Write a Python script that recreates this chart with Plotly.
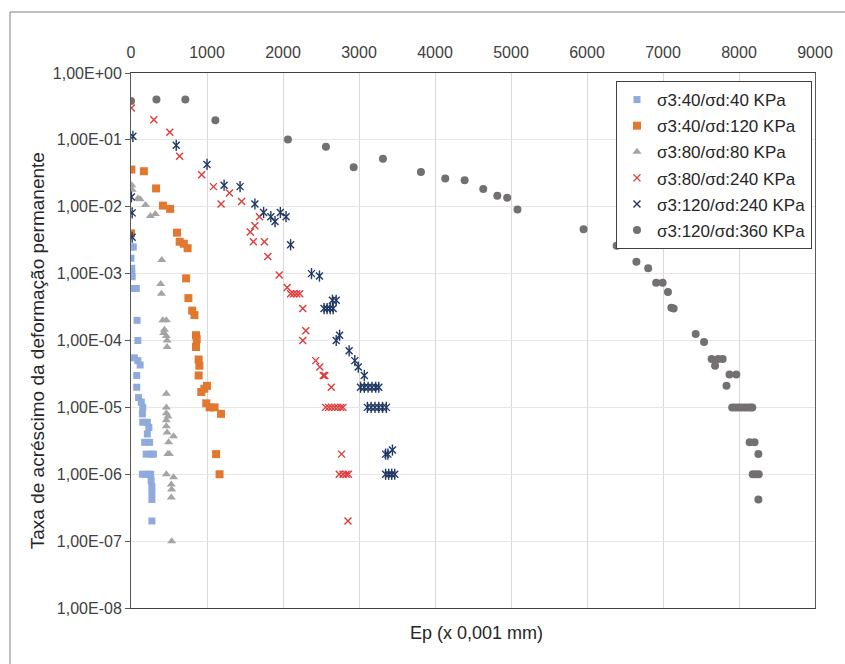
import plotly.graph_objects as go

# ---- data ----
names = ["σ3:40/σd:40 KPa", "σ3:40/σd:120 KPa", "σ3:80/σd:80 KPa",
         "σ3:80/σd:240 KPa", "σ3:120/σd:240 KPa", "σ3:120/σd:360 KPa"]

x1 = [0, 30, 0, 10, 10, 15, 15, 70, 80, 90, 45, 90, 120, 75, 75, 100, 135, 155, 150, 155,
      215, 235, 215, 180, 245, 200, 265, 295, 150, 190, 230, 260, 265, 275, 275, 275, 275]
y1 = [2.5e-3, 2.5e-3, 1.7e-3, 1.2e-3, 1.0e-3, 9e-4, 6e-4, 6e-4, 2e-4, 1e-4, 5.5e-5, 5e-5, 4.3e-5,
      3e-5, 2e-5, 1.4e-5, 1.2e-5, 1e-5, 8e-6, 6e-6, 6e-6, 5e-6, 4e-6, 3e-6, 3e-6, 2e-6, 2e-6,
      2e-6, 1e-6, 1e-6, 1e-6, 1e-6, 8e-7, 6.5e-7, 5.3e-7, 4.2e-7, 2e-7]

x2 = [5, 170, 330, 420, 515, 0, 605, 640, 695, 745, 725, 755, 805, 835, 855, 865, 855, 890, 900,
      890, 925, 965, 1000, 990, 1035, 1100, 1185, 1120, 1165]
y2 = [0.036, 0.034, 0.0188, 0.0104, 0.0093, 0.004, 0.0041, 0.003, 0.0028, 0.0024, 8.5e-4, 4.3e-4,
      2.8e-4, 2.4e-4, 1.2e-4, 1.05e-4, 8e-5, 5.2e-5, 4.2e-5, 3e-5, 1.7e-5, 1.9e-5, 2.1e-5,
      1.15e-5, 1e-5, 1e-5, 8e-6, 2e-6, 1e-6]

x3 = [10, 15, 90, 120, 190, 255, 320, 405, 390, 400, 420, 465, 440, 430, 465, 475, 475, 465, 465,
      465, 485, 465, 465, 475, 495, 560, 485, 505, 465, 560, 530, 535, 530, 535]
y3 = [0.021, 0.018, 0.0133, 0.0129, 0.0106, 0.0073, 0.0078, 0.0016, 7e-4, 5e-4, 2e-4, 2e-4,
      1.45e-4, 1.3e-4, 1.17e-4, 1e-4, 8e-5, 1.6e-5, 1e-5, 8.2e-6, 7.3e-6, 6.4e-6, 5.2e-6, 4.2e-6,
      3e-6, 3.7e-6, 2e-6, 2e-6, 1e-6, 9e-7, 7e-7, 5.9e-7, 4.5e-7, 1e-7]

x4 = [5, 300, 510, 640, 930, 1085, 1295, 1185, 1455, 1690, 1630, 1570, 1610, 1755, 1800, 1950,
      2055, 2100, 2140, 2180, 2220, 2260, 2300, 2260, 2430, 2485, 2530, 2550, 2635, 2560, 2600,
      2640, 2680, 2720, 2760, 2790, 2770, 2740, 2790, 2830, 2860, 2855]
y4 = [0.30, 0.20, 0.13, 0.057, 0.030, 0.020, 0.016, 0.011, 0.012, 0.0071, 0.0052, 0.0042, 0.003,
      0.003, 0.0018, 9.5e-4, 6.2e-4, 5e-4, 5e-4, 5e-4, 5e-4, 3e-4, 1.4e-4, 1e-4, 5e-5, 4e-5,
      3e-5, 3e-5, 2e-5, 1e-5, 1e-5, 1e-5, 1e-5, 1e-5, 1e-5, 1e-5, 2e-6, 1e-6, 1e-6, 1e-6, 1e-6,
      2e-7]

x5 = [25, 595, 1000, 1225, 1435, 1630, 1745, 1840, 1895, 1965, 2040, 2100, 5, 15, 15, 2375, 2480,
      2650, 2700, 2540, 2580, 2620, 2660, 2745, 2700, 2870, 2945, 2990, 3070, 3020, 3070, 3120,
      3170, 3220, 3260, 3110, 3160, 3210, 3260, 3310, 3360, 3350, 3380, 3440, 3350, 3390, 3430,
      3470]
y5 = [0.113, 0.083, 0.043, 0.021, 0.020, 0.011, 0.0082, 0.0071, 0.006, 0.0082, 0.0071, 0.0027,
      0.014, 0.0081, 0.0035, 0.001, 9.2e-4, 4e-4, 4e-4, 3e-4, 3e-4, 3e-4, 3e-4, 1.2e-4, 1e-4,
      7e-5, 5e-5, 4e-5, 3e-5, 2e-5, 2e-5, 2e-5, 2e-5, 2e-5, 2e-5, 1e-5, 1e-5, 1e-5, 1e-5, 1e-5,
      1e-5, 2e-6, 2e-6, 2.3e-6, 1e-6, 1e-6, 1e-6, 1e-6]

x6 = [0, 335, 715, 1110, 2065, 2565, 2930, 3315, 3815, 4135, 4390, 4635, 4820, 4950, 5085, 5955,
      6390, 6650, 6805, 6910, 6995, 7065, 7110, 7140, 7430, 7540, 7640, 7725, 7785, 7685, 7875,
      7965, 7835, 7910, 7950, 7990, 8030, 8070, 8110, 8150, 8175, 8140, 8205, 8255, 8180, 8220,
      8260, 8255]
y6 = [0.38, 0.40, 0.40, 0.197, 0.101, 0.079, 0.039, 0.052, 0.033, 0.0265, 0.0248, 0.0184, 0.0146,
      0.0136, 0.0091, 0.0046, 0.0026, 0.0015, 0.0012, 7.3e-4, 7.3e-4, 5.3e-4, 3.1e-4, 3e-4,
      1.25e-4, 9.5e-5, 5.3e-5, 5.3e-5, 5.3e-5, 4.2e-5, 3.1e-5, 3.1e-5, 2.1e-5, 1e-5, 1e-5, 1e-5,
      1e-5, 1e-5, 1e-5, 1e-5, 1e-5, 3e-6, 3e-6, 2e-6, 1e-6, 1e-6, 1e-6, 4.2e-7]

x_ticks = [0, 1000, 2000, 3000, 4000, 5000, 6000, 7000, 8000, 9000]
y_tickvals = [1e0, 1e-1, 1e-2, 1e-3, 1e-4, 1e-5, 1e-6, 1e-7, 1e-8]
y_ticktext = ["1,00E+00", "1,00E-01", "1,00E-02", "1,00E-03", "1,00E-04",
              "1,00E-05", "1,00E-06", "1,00E-07", "1,00E-08"]

FONT = "Liberation Sans, Arial, sans-serif"
TXT = "#404040"

fig = go.Figure()

fig.add_trace(go.Scatter(x=x1, y=y1, mode="markers", name=names[0], legendgroup="g1",
                         marker=dict(symbol="square", size=7, color="#8FAADC")))
fig.add_trace(go.Scatter(x=x2, y=y2, mode="markers", name=names[1], legendgroup="g2",
                         marker=dict(symbol="square", size=8, color="#E2782F")))
fig.add_trace(go.Scatter(x=x3, y=y3, mode="markers", name=names[2], legendgroup="g3",
                         marker=dict(symbol="triangle-up", size=8, color="#A5A5A5")))
fig.add_trace(go.Scatter(x=x4, y=y4, mode="markers", name=names[3], legendgroup="g4",
                         marker=dict(symbol="x-thin-open", size=7, color="#E03A3A",
                                     line=dict(width=1.4, color="#E03A3A"))))
fig.add_trace(go.Scatter(x=x5, y=y5, mode="markers", name=names[4], legendgroup="g5",
                         marker=dict(symbol="x-thin-open", size=7, color="#203864",
                                     line=dict(width=1.4, color="#203864"))))
fig.add_trace(go.Scatter(x=x5, y=y5, mode="markers", name=names[4], legendgroup="g5",
                         showlegend=False,
                         marker=dict(symbol="line-ns-open", size=8, color="#203864",
                                     line=dict(width=1.4, color="#203864"))))
fig.add_trace(go.Scatter(x=x6, y=y6, mode="markers", name=names[5], legendgroup="g6",
                         marker=dict(symbol="circle", size=8, color="#757070")))

fig.update_layout(
    width=845, height=664,
    margin=dict(l=131, r=30, t=73, b=56),
    paper_bgcolor="white", plot_bgcolor="white",
    font=dict(family=FONT, size=16, color=TXT),
    showlegend=True,
    legend=dict(x=0.9956, y=0.985, xanchor="right", yanchor="top",
                bgcolor="white", bordercolor="#404040", borderwidth=1,
                font=dict(family=FONT, size=17, color="#262626"),
                tracegroupgap=1, itemsizing="trace", itemwidth=30),
    xaxis=dict(side="top", range=[0, 9000], tickvals=x_ticks,
               showgrid=True, gridcolor="#D9D9D9", gridwidth=1,
               showline=True, linecolor="#404040", linewidth=1, mirror=True,
               ticks="", ticklabelstandoff=8, zeroline=False,
               tickfont=dict(family=FONT, size=16, color=TXT)),
    yaxis=dict(type="log", range=[-8, 0], tickvals=y_tickvals, ticktext=y_ticktext,
               showgrid=True, gridcolor="#E6E6E6", gridwidth=1,
               showline=True, linecolor="#595959", linewidth=1, mirror=True,
               ticks="outside", ticklen=5, tickcolor="#595959", zeroline=False,
               tickfont=dict(family=FONT, size=16, color=TXT)),
    annotations=[
        dict(text="Taxa de acréscimo da deformação permanente", xref="paper", yref="paper",
             x=-0.1374, y=0.48, xanchor="center", yanchor="middle", textangle=-90,
             showarrow=False, font=dict(family=FONT, size=19, color="#262626")),
        dict(text="Ep (x 0,001 mm)", xref="paper", yref="paper",
             x=0.505, y=-0.0467, xanchor="center", yanchor="middle",
             showarrow=False, font=dict(family=FONT, size=18, color="#262626")),
    ],
    shapes=[dict(type="rect", xref="paper", yref="paper",
                 x0=-0.1769, x1=1.2, y0=-0.3, y1=1.114,
                 line=dict(color="#7F7F7F", width=1), layer="below")],
)

fig.write_html("out.html")
